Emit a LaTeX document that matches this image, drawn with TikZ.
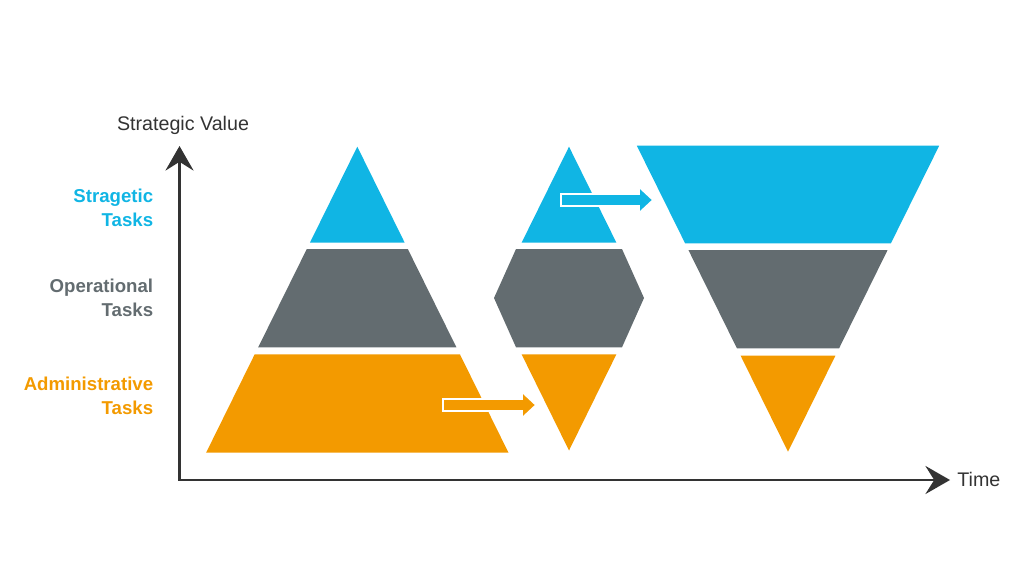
\documentclass[tikz,border=0pt]{standalone}
\usepackage{fontspec}
\setmainfont{Liberation Sans}
\usetikzlibrary{arrows.meta}

\definecolor{stratblue}{HTML}{10B5E4}
\definecolor{opgray}{HTML}{636C70}
\definecolor{adminorange}{HTML}{F39A00}
\definecolor{axisgray}{HTML}{333333}

\begin{document}
\begin{tikzpicture}[x=0.02cm,y=-0.02cm,
    axis/.style={draw=axisgray,line width=1.3pt,>={Stealth[length=14pt,width=16pt,inset=5pt]},<->},
    axis label/.style={text=axisgray,font=\fontsize{11.2}{13.4}\selectfont,inner sep=0pt},
    task label/.style={font=\fontsize{10.6}{13.4}\selectfont\bfseries,align=right,anchor=east,inner sep=0pt},
    shift arrow/.style={draw=white,line width=0.9pt,line join=miter}]
    \useasboundingbox (0,0) rectangle (1030,564);

    % axes
    \coordinate (origin) at (179.5,480);
    \coordinate (ytip) at (179.5,146);
    \coordinate (xtip) at (950,480);
    \draw[axis] (ytip) -- (origin) -- (xtip);
    \node[axis label,anchor=base] (value) at (183,131) {Strategic Value};
    \node[axis label,anchor=base west] (time) at (957,486.5) {Time};

    % task labels
    \node[task label,text=stratblue] (strat) at (153.5,207.7) {Stragetic\\Tasks};
    \node[task label,text=opgray] (oper) at (153.5,297.7) {Operational\\Tasks};
    \node[task label,text=adminorange] (admin) at (153.5,396) {Administrative\\Tasks};

    % pyramid
    \fill[stratblue] (357.3,146.7) -- (404.7,242.7) -- (309.9,242.7) -- cycle;
    \fill[opgray] (306.8,249) -- (407.8,249) -- (456.4,347.3) -- (258.2,347.3) -- cycle;
    \fill[adminorange] (254.7,354.3) -- (459.9,354.3) -- (508.5,452.7) -- (206.1,452.7) -- cycle;

    % hexagon column
    \fill[stratblue] (569,146.7) -- (616.4,242.7) -- (521.6,242.7) -- cycle;
    \fill[opgray] (516,249) -- (622,249) -- (644,298) -- (622,347.3) -- (516,347.3) -- (494,298) -- cycle;
    \fill[adminorange] (521.6,354.3) -- (616.4,354.3) -- (569,450.5) -- cycle;

    % inverted pyramid
    \fill[stratblue] (636.8,145.7) -- (939.2,145.7) -- (890.9,243.3) -- (685.1,243.3) -- cycle;
    \fill[opgray] (688.4,250) -- (887.6,250) -- (839.1,348.3) -- (736.9,348.3) -- cycle;
    \fill[adminorange] (740.6,355.7) -- (835.4,355.7) -- (788,451.7) -- cycle;

    % shift arrows
    \filldraw[shift arrow,fill=adminorange] (443,399) -- (522,399) -- (522,392) -- (536,405)
        -- (522,418) -- (522,411) -- (443,411) -- cycle;
    \filldraw[shift arrow,fill=stratblue] (561,194) -- (639,194) -- (639,187) -- (653,200)
        -- (639,213) -- (639,206) -- (561,206) -- cycle;
\end{tikzpicture}
\end{document}
